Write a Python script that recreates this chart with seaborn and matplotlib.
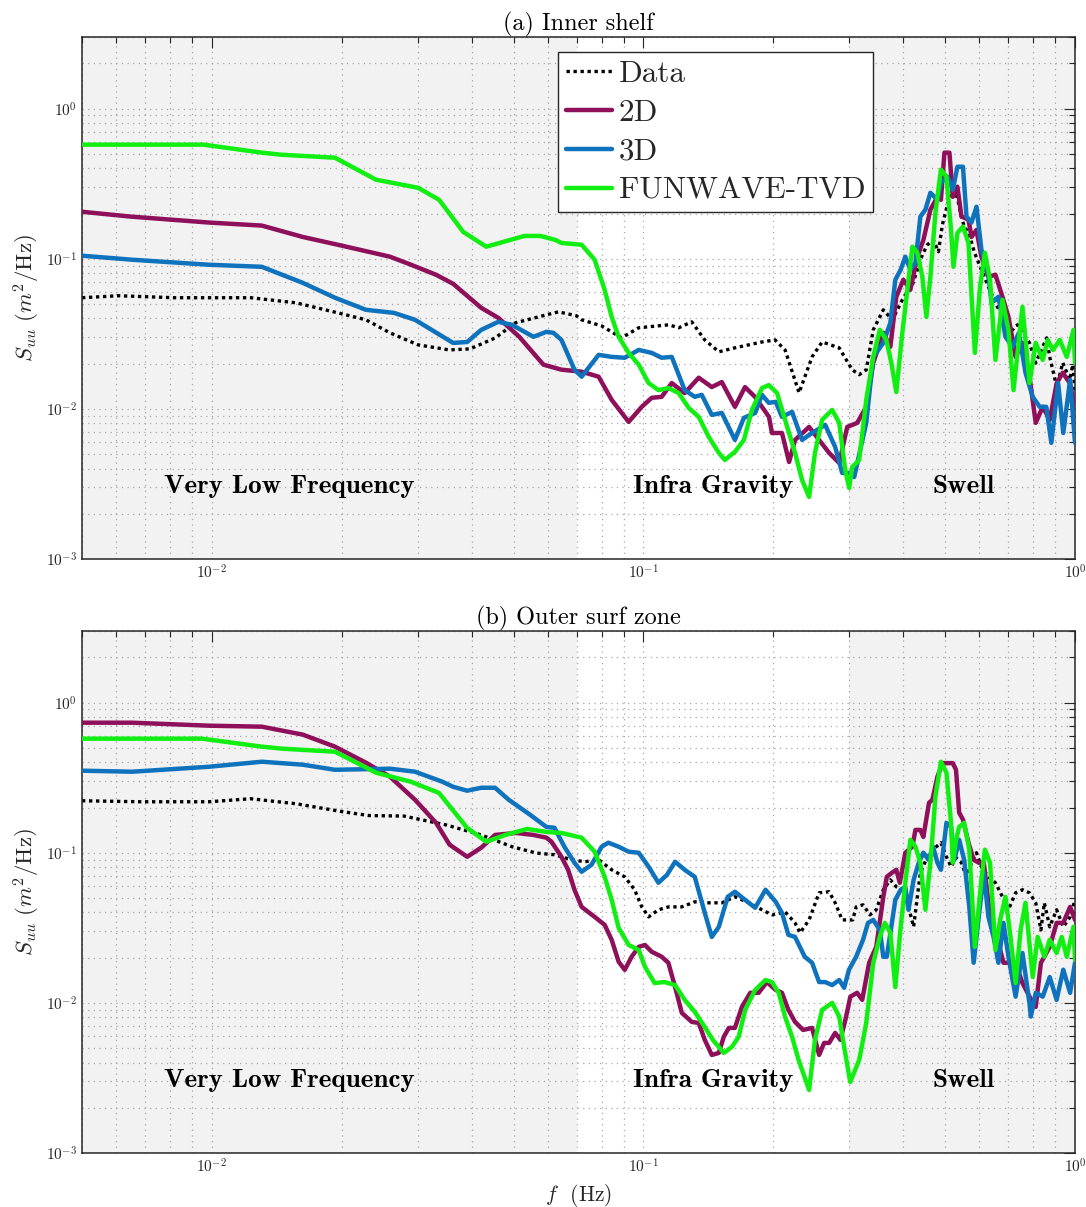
import matplotlib
matplotlib.use("Agg")
import matplotlib.pyplot as plt
from matplotlib.ticker import LogLocator, NullFormatter, LogFormatterMathtext
import seaborn as sns
import pandas as pd

# ---------------- data: panel (a) Inner shelf ----------------
fa_data = [0.005, 0.00607, 0.0082, 0.0123, 0.01565, 0.01959, 0.02275, 0.02586, 0.03004, 0.03546,
           0.03967, 0.04535, 0.05047, 0.05958, 0.06353, 0.06996, 0.07189, 0.0800, 0.0890, 0.0975,
           0.1144, 0.1207, 0.1294, 0.1387, 0.1495, 0.1629, 0.1882, 0.2018, 0.2129, 0.2294,
           0.2459, 0.2594, 0.2842, 0.3046, 0.3162, 0.3283, 0.3408, 0.3596, 0.3773, 0.398,
           0.4199, 0.4429, 0.455, 0.4698, 0.4825, 0.4929, 0.5063, 0.520, 0.534, 0.5427,
           0.5545, 0.5664, 0.585, 0.6069, 0.630, 0.654, 0.679, 0.690, 0.7163, 0.7357,
           0.7556, 0.7845, 0.8109, 0.8418, 0.860, 0.8738, 0.888, 0.9072, 0.9367, 0.9724,
           0.9882, 1.0]
sa_data = [0.0550, 0.0567, 0.0550, 0.0550, 0.0509, 0.0436, 0.0392, 0.0321, 0.0267, 0.0247,
           0.0251, 0.0297, 0.0374, 0.0423, 0.0443, 0.0417, 0.0392, 0.0357, 0.0297, 0.0347,
           0.0363, 0.0347, 0.0380, 0.0288, 0.0240, 0.0255, 0.0279, 0.0288, 0.0247, 0.0128,
           0.0222, 0.0279, 0.0255, 0.0182, 0.0169, 0.0182, 0.0336, 0.0457, 0.0392, 0.0533,
           0.0671, 0.1064, 0.124, 0.1334, 0.1114, 0.169, 0.229, 0.288, 0.255, 0.2025,
           0.161, 0.151, 0.1097, 0.0845, 0.065, 0.0509, 0.041, 0.0321, 0.0336, 0.0363,
           0.0321, 0.0275, 0.0202, 0.0259, 0.0297, 0.0222, 0.0182, 0.0140, 0.0203, 0.0156,
           0.0197, 0.0133]

fa_2d = [0.005, 0.00647, 0.00985, 0.01305, 0.01624, 0.02001, 0.02586, 0.02894, 0.03308, 0.03622,
         0.04208, 0.04609, 0.05156, 0.05864, 0.06456, 0.07189, 0.07873, 0.0844, 0.0924, 0.0991,
         0.1045, 0.1102, 0.1163, 0.1246, 0.1343, 0.144, 0.1519, 0.1629, 0.1719, 0.1813,
         0.1954, 0.1985, 0.2094, 0.2175, 0.2245, 0.242, 0.2553, 0.2693, 0.2842, 0.2966,
         0.3129, 0.3283, 0.3408, 0.3596, 0.3733, 0.3854, 0.4001, 0.4154, 0.4312, 0.4453,
         0.4623, 0.48, 0.489, 0.4982, 0.5117, 0.521, 0.534, 0.5456, 0.5664, 0.5756,
         0.5912, 0.6069, 0.630, 0.654, 0.679, 0.7011, 0.7284, 0.7556, 0.7845, 0.8109,
         0.8418, 0.8738, 0.9072, 0.9367, 0.9724, 1.0]
sa_2d = [0.2056, 0.191, 0.1742, 0.1663, 0.1397, 0.1222, 0.1032, 0.0912, 0.0782, 0.0681,
         0.0471, 0.0404, 0.0302, 0.0197, 0.01824, 0.01769, 0.01638, 0.01149, 0.00819, 0.01032,
         0.01185, 0.01203, 0.01486, 0.01274, 0.01613, 0.01397, 0.01509, 0.01032, 0.01397, 0.01203,
         0.00884, 0.00691, 0.00691, 0.00443, 0.00621, 0.00758, 0.00621, 0.00509, 0.00436, 0.00758,
         0.00807, 0.01032, 0.02025, 0.0321, 0.0259, 0.0558, 0.0724, 0.0621, 0.1032, 0.1334,
         0.212, 0.2588, 0.247, 0.509, 0.509, 0.2588, 0.302, 0.191, 0.1824, 0.1397,
         0.1556, 0.1032, 0.0758, 0.0783, 0.0558, 0.041, 0.0222, 0.0275, 0.01638, 0.00807,
         0.01032, 0.00845, 0.01486, 0.01742, 0.01486, 0.01032]

fa_3d = [0.005, 0.00654, 0.00985, 0.01305, 0.01624, 0.01928, 0.02275, 0.02642, 0.02956, 0.03622,
         0.03904, 0.04208, 0.04609, 0.04959, 0.05559, 0.05958, 0.06186, 0.06456, 0.06921, 0.07189,
         0.07873, 0.0844, 0.0905, 0.0975, 0.1045, 0.1102, 0.1163, 0.1246, 0.1315, 0.1365,
         0.144, 0.1519, 0.1629, 0.1709, 0.1815, 0.1882, 0.1952, 0.2025, 0.2094, 0.221,
         0.2331, 0.2459, 0.2637, 0.2781, 0.2887, 0.2997, 0.3079, 0.3283, 0.3408, 0.3596,
         0.3733, 0.3834, 0.3945, 0.4044, 0.4154, 0.4268, 0.4382, 0.4501, 0.4623, 0.48,
         0.489, 0.5063, 0.521, 0.534, 0.550, 0.5605, 0.5756, 0.5912, 0.6069, 0.630,
         0.6404, 0.6646, 0.690, 0.7163, 0.7413, 0.7679, 0.798, 0.8284, 0.858, 0.8814,
         0.9139, 0.9393, 0.9742, 1.0]
sa_3d = [0.1048, 0.0985, 0.0912, 0.0884, 0.0691, 0.055, 0.0457, 0.0436, 0.0392, 0.0275,
         0.0279, 0.0336, 0.038, 0.0363, 0.0302, 0.0326, 0.0321, 0.0288, 0.01824, 0.01638,
         0.0229, 0.0222, 0.0219, 0.0247, 0.0236, 0.0219, 0.0222, 0.01334, 0.01203, 0.0124,
         0.00912, 0.0094, 0.00621, 0.00871, 0.0094, 0.0124, 0.01097, 0.01114, 0.00884, 0.00955,
         0.00621, 0.00691, 0.00782, 0.00558, 0.00374, 0.00374, 0.00352, 0.00807, 0.0222, 0.0275,
         0.0374, 0.0724, 0.0845, 0.1032, 0.0845, 0.094, 0.191, 0.212, 0.275, 0.247,
         0.321, 0.352, 0.288, 0.41, 0.41, 0.191, 0.1742, 0.222, 0.1149, 0.0783,
         0.0509, 0.0558, 0.0302, 0.0259, 0.0321, 0.0174, 0.01203, 0.01032, 0.01032, 0.00594,
         0.01486, 0.00691, 0.0156, 0.00594]

fa_fw = [0.005, 0.00956, 0.01305, 0.01444, 0.01928, 0.02401, 0.03004, 0.03361, 0.03822, 0.04322,
         0.05296, 0.0577, 0.06252, 0.06456, 0.07189, 0.07707, 0.0813, 0.0844, 0.0876, 0.0924,
         0.0975, 0.1028, 0.1083, 0.1144, 0.1207, 0.1273, 0.1343, 0.1417, 0.1495, 0.1544,
         0.1629, 0.1709, 0.1784, 0.1882, 0.1952, 0.204, 0.2129, 0.2245, 0.2331, 0.242,
         0.2497, 0.2594, 0.2737, 0.2842, 0.2934, 0.2997, 0.3046, 0.3162, 0.3283, 0.3408,
         0.3529, 0.3654, 0.3753, 0.3854, 0.397, 0.4088, 0.4199, 0.4312, 0.4429, 0.4525,
         0.4623, 0.4748, 0.489, 0.5036, 0.5161, 0.5228, 0.534, 0.550, 0.5664, 0.5861,
         0.6024, 0.6184, 0.6355, 0.654, 0.679, 0.7011, 0.7203, 0.7556, 0.7845, 0.8109,
         0.8418, 0.8646, 0.889, 0.9218, 0.957, 0.9919, 1.0]
sa_fw = [0.5755, 0.5755, 0.509, 0.4934, 0.471, 0.336, 0.297, 0.247, 0.151, 0.1203,
         0.1419, 0.1419, 0.1334, 0.1274, 0.124, 0.0985, 0.0621, 0.041, 0.0302, 0.0236,
         0.0197, 0.01486, 0.01334, 0.01376, 0.01274, 0.01016, 0.00884, 0.0065, 0.00509, 0.00457,
         0.00517, 0.00621, 0.00985, 0.01376, 0.01441, 0.01274, 0.00845, 0.00509, 0.00336, 0.00259,
         0.00509, 0.00845, 0.00985, 0.00807, 0.00392, 0.00297, 0.0041, 0.00457, 0.01149, 0.0222,
         0.0336, 0.0288, 0.02025, 0.01294, 0.0302, 0.0621, 0.1203, 0.1097, 0.0758, 0.041,
         0.0758, 0.2025, 0.392, 0.352, 0.1556, 0.0884, 0.1486, 0.1638, 0.1274, 0.0236,
         0.065, 0.1097, 0.0724, 0.0212, 0.0533, 0.0336, 0.01334, 0.0478, 0.01486, 0.0275,
         0.0212, 0.0288, 0.0247, 0.0288, 0.0222, 0.0336, 0.0202]

# ---------------- data: panel (b) Outer surf zone ----------------
fb_data = [0.005, 0.0068, 0.00985, 0.0123, 0.01568, 0.02001, 0.02312, 0.02787, 0.0349, 0.04208,
           0.04959, 0.0565, 0.0622, 0.0681, 0.0731, 0.07873, 0.0844, 0.0905, 0.0954, 0.0991,
           0.1028, 0.1083, 0.1144, 0.1227, 0.1315, 0.1417, 0.1519, 0.1629, 0.1756, 0.1882,
           0.1985, 0.2129, 0.2245, 0.2306, 0.242, 0.2553, 0.2693, 0.2781, 0.2887, 0.3055,
           0.3111, 0.3227, 0.3348, 0.3463, 0.3596, 0.3733, 0.3854, 0.4001, 0.4113, 0.4227,
           0.4312, 0.4382, 0.4549, 0.4688, 0.489, 0.5036, 0.5161, 0.5304, 0.5456, 0.5605,
           0.5756, 0.5912, 0.6069, 0.630, 0.654, 0.679, 0.7011, 0.7284, 0.7556, 0.7845,
           0.8109, 0.8337, 0.849, 0.8738, 0.9065, 0.9393, 0.9742, 1.0]
sb_data = [0.222, 0.2186, 0.2186, 0.229, 0.212, 0.188, 0.1769, 0.1755, 0.1532, 0.1314,
           0.1097, 0.0995, 0.097, 0.0898, 0.0871, 0.0898, 0.077, 0.0691, 0.0567, 0.0436,
           0.0374, 0.0417, 0.0436, 0.0436, 0.0471, 0.0464, 0.0464, 0.0509, 0.0464, 0.0417,
           0.0386, 0.0404, 0.0341, 0.0293, 0.0357, 0.0541, 0.055, 0.0464, 0.0357, 0.0357,
           0.0436, 0.045, 0.0386, 0.0417, 0.0567, 0.066, 0.0593, 0.0567, 0.0436, 0.0321,
           0.0509, 0.0735, 0.094, 0.1048, 0.1167, 0.094, 0.0807, 0.0926, 0.0858, 0.0691,
           0.0858, 0.100, 0.0807, 0.0691, 0.0631, 0.0509, 0.0417, 0.0541, 0.0567, 0.0541,
           0.0464, 0.0306, 0.0464, 0.0321, 0.0417, 0.0321, 0.0374, 0.0486]

fb_2d = [0.005, 0.00654, 0.00985, 0.01305, 0.01624, 0.01928, 0.02275, 0.02586, 0.02956, 0.03308,
         0.03554, 0.03904, 0.04208, 0.0453, 0.05068, 0.05559, 0.05958, 0.0612, 0.06456, 0.0669,
         0.06921, 0.07189, 0.07707, 0.0813, 0.0844, 0.0876, 0.0905, 0.0939, 0.0975, 0.1008,
         0.1045, 0.1102, 0.1142, 0.1184, 0.1227, 0.1294, 0.1343, 0.1387, 0.144, 0.1495,
         0.1535, 0.1577, 0.1629, 0.1691, 0.1768, 0.1849, 0.1932, 0.2025, 0.2094, 0.2167,
         0.2245, 0.2344, 0.2459, 0.2553, 0.2622, 0.2693, 0.2781, 0.286, 0.2937, 0.3016,
         0.3127, 0.3213, 0.3334, 0.3463, 0.3596, 0.3663, 0.3764, 0.3854, 0.3927, 0.4044,
         0.4199, 0.4268, 0.4382, 0.4453, 0.4589, 0.4672, 0.48, 0.4935, 0.507, 0.521,
         0.530, 0.539, 0.550, 0.5664, 0.5823, 0.5984, 0.6148, 0.630, 0.6476, 0.6646,
         0.6829, 0.7011, 0.7284, 0.7556, 0.7845, 0.8109, 0.8337, 0.849, 0.8738, 0.9065,
         0.9393, 0.9742, 1.0]
sb_2d = [0.735, 0.735, 0.702, 0.6915, 0.612, 0.509, 0.398, 0.321, 0.2254, 0.158,
         0.1132, 0.094, 0.1081, 0.1314, 0.1355, 0.1314, 0.126, 0.1185, 0.094, 0.077,
         0.0567, 0.0436, 0.0374, 0.0331, 0.0263, 0.0188, 0.0166, 0.0203, 0.0236, 0.0243,
         0.0219, 0.0203, 0.0185, 0.01274, 0.00858, 0.00747, 0.00735, 0.00567, 0.0045, 0.00464,
         0.00594, 0.00681, 0.00681, 0.0094, 0.01167, 0.01167, 0.01376, 0.0122, 0.01167, 0.00898,
         0.00747, 0.0066, 0.00681, 0.0045, 0.00541, 0.00541, 0.00631, 0.00567, 0.0077, 0.011,
         0.01167, 0.01048, 0.0185, 0.0236, 0.0509, 0.0691, 0.0735, 0.077, 0.0631, 0.100,
         0.1097, 0.1419, 0.1419, 0.1274, 0.2153, 0.2254, 0.321, 0.3955, 0.3955, 0.3955,
         0.357, 0.185, 0.1663, 0.1167, 0.0898, 0.0858, 0.0858, 0.0464, 0.0306, 0.025,
         0.0185, 0.0185, 0.0185, 0.01355, 0.011, 0.0094, 0.0185, 0.0203, 0.0236, 0.0341,
         0.0341, 0.0436, 0.0357]

fb_3d = [0.005, 0.00654, 0.00985, 0.01305, 0.01624, 0.01928, 0.02586, 0.02956, 0.03423, 0.03622,
         0.03904, 0.04208, 0.0453, 0.04873, 0.05454, 0.05958, 0.0622, 0.06557, 0.06921, 0.07189,
         0.0758, 0.0800, 0.0829, 0.0876, 0.0924, 0.0975, 0.1028, 0.1083, 0.1134, 0.1184,
         0.1246, 0.1315, 0.1387, 0.144, 0.1495, 0.1568, 0.1629, 0.1719, 0.1815, 0.1918,
         0.2025, 0.2094, 0.2167, 0.2245, 0.2364, 0.2459, 0.2553, 0.2637, 0.2737, 0.2842,
         0.2918, 0.2994, 0.3111, 0.3227, 0.3314, 0.3408, 0.3529, 0.3596, 0.3663, 0.3753,
         0.3834, 0.3945, 0.4044, 0.4113, 0.4227, 0.4345, 0.4453, 0.4576, 0.4688, 0.48,
         0.489, 0.5036, 0.5161, 0.5255, 0.539, 0.5535, 0.5689, 0.5823, 0.5984, 0.6148,
         0.630, 0.6476, 0.6646, 0.6829, 0.7011, 0.7284, 0.7556, 0.7845, 0.790, 0.8109,
         0.8418, 0.8738, 0.9065, 0.9393, 0.9742, 1.0]
sb_3d = [0.352, 0.3466, 0.374, 0.404, 0.386, 0.357, 0.363, 0.3466, 0.297, 0.275,
         0.259, 0.271, 0.271, 0.2254, 0.1796, 0.1486, 0.1467, 0.1097, 0.0858, 0.0747,
         0.0832, 0.1097, 0.1167, 0.1097, 0.1016, 0.100, 0.0807, 0.0631, 0.0713, 0.0871,
         0.077, 0.0691, 0.0398, 0.0275, 0.0321, 0.0509, 0.055, 0.0486, 0.043, 0.0567,
         0.0471, 0.0398, 0.0284, 0.0275, 0.0203, 0.0185, 0.01376, 0.01376, 0.01314, 0.0142,
         0.0126, 0.01663, 0.0203, 0.0263, 0.0341, 0.0357, 0.0306, 0.0203, 0.0203, 0.0321,
         0.0486, 0.0567, 0.0593, 0.0417, 0.066, 0.0858, 0.100, 0.0898, 0.1097, 0.0858,
         0.077, 0.158, 0.1486, 0.0898, 0.122, 0.0898, 0.0436, 0.0185, 0.0374, 0.0735,
         0.0374, 0.0275, 0.0185, 0.0341, 0.0203, 0.011, 0.0215, 0.0099, 0.0081, 0.01167,
         0.011, 0.01486, 0.01048, 0.01663, 0.01167, 0.0185]

fb_fw = [0.005, 0.00949, 0.01305, 0.01456, 0.01928, 0.02401, 0.02894, 0.03361, 0.03904, 0.04322,
         0.04785, 0.05376, 0.05958, 0.06456, 0.07189, 0.07707, 0.0813, 0.0844, 0.0876, 0.0924,
         0.0975, 0.1008, 0.1061, 0.1119, 0.1184, 0.1246, 0.1315, 0.1387, 0.1448, 0.1535,
         0.1603, 0.1662, 0.1721, 0.1815, 0.1918, 0.1985, 0.2058, 0.2129, 0.221, 0.2288,
         0.242, 0.2497, 0.2594, 0.2737, 0.2842, 0.2934, 0.3014, 0.3162, 0.3283, 0.3408,
         0.3529, 0.3626, 0.3733, 0.3834, 0.3933, 0.4044, 0.4154, 0.4268, 0.4382, 0.4501,
         0.4623, 0.4748, 0.489, 0.5036, 0.5161, 0.521, 0.530, 0.539, 0.5535, 0.5689,
         0.5861, 0.6069, 0.6184, 0.6355, 0.654, 0.6707, 0.690, 0.7088, 0.7284, 0.7481,
         0.7679, 0.798, 0.8195, 0.849, 0.8738, 0.9065, 0.9316, 0.957, 0.9919, 1.0]
sb_fw = [0.5755, 0.5755, 0.509, 0.4934, 0.471, 0.3413, 0.297, 0.25, 0.1463, 0.1185,
         0.1314, 0.1441, 0.1376, 0.1355, 0.126, 0.1016, 0.0691, 0.0486, 0.0316, 0.0243,
         0.0225, 0.0174, 0.01355, 0.01376, 0.01314, 0.01048, 0.00871, 0.00691, 0.00567, 0.00464,
         0.00509, 0.00594, 0.00898, 0.0122, 0.0142, 0.01376, 0.01167, 0.00807, 0.00594, 0.00417,
         0.00263, 0.00567, 0.00898, 0.0100, 0.0081, 0.00464, 0.00297, 0.00417, 0.00735, 0.0185,
         0.0275, 0.0341, 0.0293, 0.01274, 0.0293, 0.0631, 0.122, 0.1097, 0.0858, 0.0417,
         0.0858, 0.236, 0.404, 0.3413, 0.158, 0.0858, 0.122, 0.1486, 0.158, 0.1048,
         0.0236, 0.066, 0.1048, 0.0858, 0.0225, 0.0357, 0.0509, 0.0275, 0.01355, 0.0306,
         0.0464, 0.01486, 0.0275, 0.0203, 0.0263, 0.0215, 0.0275, 0.0203, 0.0321, 0.0194]

labels = ["Data", "2D", "3D", "FUNWAVE-TVD"]
bands = [("Very Low Frequency", 0.005, 0.07, 0.0151), ("Infra Gravity", 0.07, 0.3, 0.1448),
         ("Swell", 0.3, 1.0, 0.551)]
titles = ["(a) Inner shelf", "(b) Outer surf zone"]

# ---------------- style ----------------
sns.set_style("white")
plt.rcParams["font.family"] = ["cmr10", "DejaVu Serif"]
plt.rcParams["mathtext.fontset"] = "cm"
plt.rcParams["axes.formatter.use_mathtext"] = True
plt.rcParams["axes.unicode_minus"] = False

colors = ["#000000", "#8e0f5a", "#0f72bd", "#11ee11"]
INK = "#262626"

fig = plt.figure(figsize=(10.86, 12.07), dpi=100)
ax_a = fig.add_axes([82 / 1086, 1 - 559 / 1207, 993 / 1086, 522 / 1207])
ax_b = fig.add_axes([82 / 1086, 1 - 1153 / 1207, 993 / 1086, 522 / 1207])

panels = [
    (ax_a, [(fa_data, sa_data), (fa_2d, sa_2d), (fa_3d, sa_3d), (fa_fw, sa_fw)]),
    (ax_b, [(fb_data, sb_data), (fb_2d, sb_2d), (fb_3d, sb_3d), (fb_fw, sb_fw)]),
]

for i, (ax, series) in enumerate(panels):
    ax.set_xscale("log")
    ax.set_yscale("log")
    ax.set_facecolor("white")
    for name, lo, hi, xc in bands:
        if name != "Infra Gravity":
            ax.axvspan(lo, hi, color="#f2f2f2", zorder=0, lw=0)
    for k, ((f, s), lab, col) in enumerate(zip(series, labels, colors)):
        df = pd.DataFrame({"f": f, "S": s})
        if k == 0:
            sns.lineplot(data=df, x="f", y="S", ax=ax, color=col, lw=2.4, sort=False,
                         estimator=None, linestyle=(0, (1, 1.1)), label=lab, zorder=2)
        else:
            sns.lineplot(data=df, x="f", y="S", ax=ax, color=col, lw=3.2, sort=False,
                         estimator=None, label=lab, zorder=2 + k)
    ax.set_xlim(0.005, 1.0)
    ax.set_ylim(1e-3, 3.0)
    ax.xaxis.set_major_locator(LogLocator(base=10, numticks=10))
    ax.xaxis.set_minor_locator(LogLocator(base=10, subs=[2, 3, 4, 5, 6, 7, 8, 9], numticks=20))
    ax.yaxis.set_major_locator(LogLocator(base=10, numticks=10))
    ax.yaxis.set_minor_locator(LogLocator(base=10, subs=[2, 3, 4, 5, 6, 7, 8, 9], numticks=20))
    ax.xaxis.set_minor_formatter(NullFormatter())
    ax.yaxis.set_minor_formatter(NullFormatter())
    ax.xaxis.set_major_formatter(LogFormatterMathtext())
    ax.yaxis.set_major_formatter(LogFormatterMathtext())
    ax.set_axisbelow(True)
    ax.grid(True, which="both", linestyle=(0, (1, 3.5)), color="#a8a8a8", linewidth=0.9)
    ax.tick_params(which="both", direction="in", top=True, right=True, colors=INK,
                   labelsize=11, width=0.8)
    ax.tick_params(which="major", length=8)
    ax.tick_params(which="minor", length=4.5)
    for sp in ax.spines.values():
        sp.set_color(INK)
        sp.set_linewidth(1.1)
    ax.set_title(titles[i], fontsize=17.4, color="black", pad=5)
    ax.set_ylabel(r"$S_{uu}\ (m^2/\mathrm{Hz})$", fontsize=16.5, color=INK, labelpad=3)
    ax.set_xlabel("")
    for name, lo, hi, xc in bands:
        ax.text(xc, 0.00306, name, family="cmb10", fontsize=19.5, ha="center", va="center",
                color="black", zorder=10)
    if i == 0:
        h, l = ax.get_legend_handles_labels()
        leg = ax.legend(h, l, loc="upper left", bbox_to_anchor=(0.4794, 0.9713),
                        borderaxespad=0, fontsize=22.4, frameon=True, fancybox=False,
                        edgecolor=INK, handlelength=1.5, handletextpad=0.2,
                        labelspacing=0.36, borderpad=0.25)
        leg.get_frame().set_linewidth(1.0)
        leg.get_frame().set_alpha(1.0)
        leg.set_zorder(20)
    else:
        if ax.get_legend() is not None:
            ax.get_legend().remove()

ax_b.set_xlabel(r"$f$  (Hz)", fontsize=15.5, color=INK, labelpad=4)

fig.savefig("out.png", dpi=100)
